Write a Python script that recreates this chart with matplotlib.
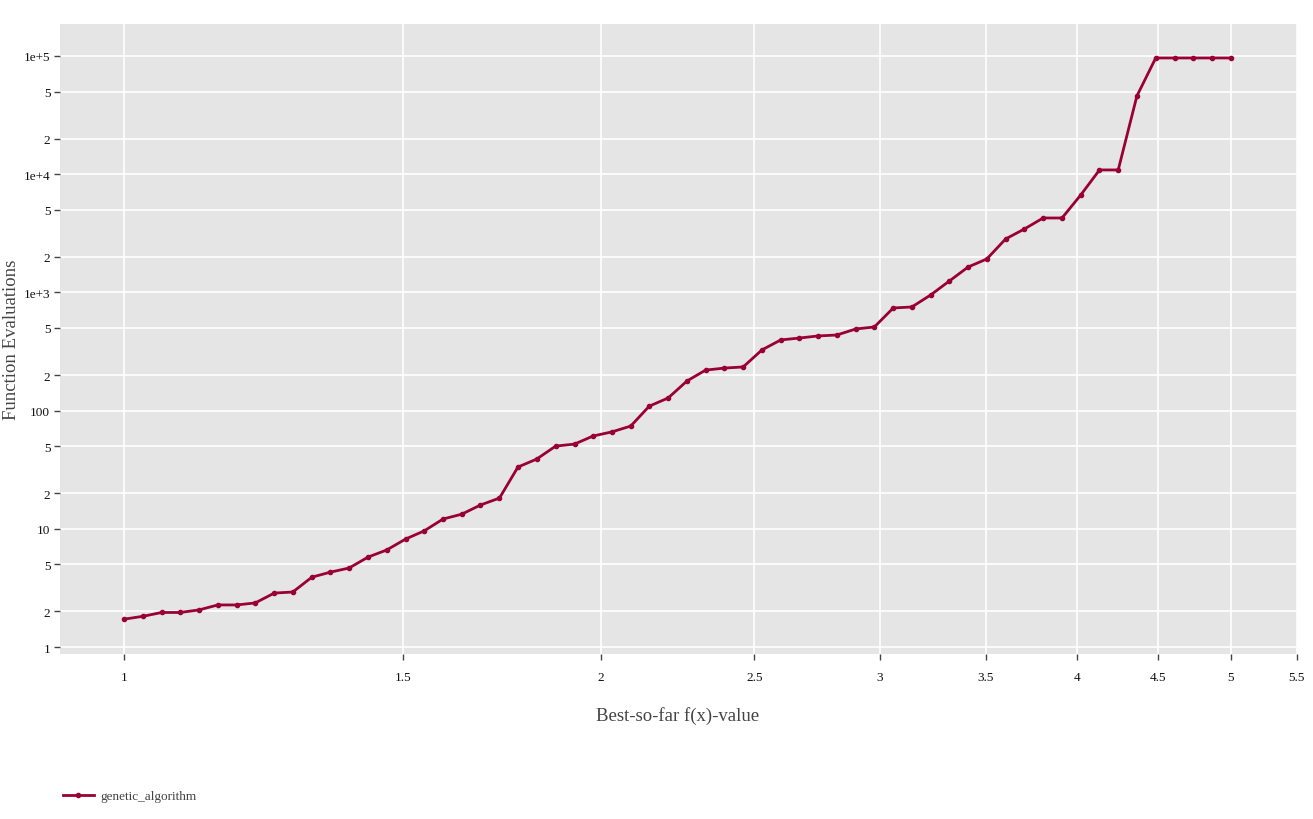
import matplotlib
matplotlib.use("Agg")
import matplotlib.pyplot as plt
from matplotlib.ticker import FixedLocator, FixedFormatter, NullLocator

# Data
x_values = [1.000, 1.028, 1.056, 1.085, 1.115, 1.146, 1.178, 1.210, 1.244, 1.278,
            1.314, 1.350, 1.387, 1.426, 1.465, 1.506, 1.547, 1.590, 1.634, 1.679,
            1.726, 1.773, 1.822, 1.873, 1.925, 1.978, 2.032, 2.089, 2.146, 2.206,
            2.267, 2.329, 2.394, 2.460, 2.528, 2.598, 2.669, 2.743, 2.819, 2.897,
            2.977, 3.060, 3.144, 3.231, 3.320, 3.412, 3.506, 3.603, 3.703, 3.805,
            3.911, 4.019, 4.130, 4.244, 4.361, 4.482, 4.606, 4.733, 4.864, 5.000]
y_values = [1.72, 1.82, 1.96, 1.96, 2.06, 2.27, 2.27, 2.36, 2.86, 2.92,
            3.9, 4.3, 4.66, 5.77, 6.62, 8.2, 9.6, 12.1, 13.3, 15.9,
            18.2, 33.3, 38.9, 50.1, 52.1, 61, 66, 74, 109, 128,
            178, 220, 229, 234, 326, 396, 411, 428, 436, 490,
            510, 738, 753, 951, 1248, 1640, 1918, 2830, 3440, 4260,
            4260, 6670, 10860, 10860, 45900, 96200, 96200, 96200, 96200, 96200]
series_name = "genetic_algorithm"

x_ticks = [1, 1.5, 2, 2.5, 3, 3.5, 4, 4.5, 5, 5.5]
x_tick_labels = ["1", "1.5", "2", "2.5", "3", "3.5", "4", "4.5", "5", "5.5"]
y_ticks = [1, 2, 5, 10, 20, 50, 100, 200, 500, 1e3, 2e3, 5e3, 1e4, 2e4, 5e4, 1e5]
y_tick_labels = ["1", "2", "5", "10", "2", "5", "100", "2", "5", "1e+3", "2", "5",
                 "1e+4", "2", "5", "1e+5"]

W, H = 1313, 820
fig = plt.figure(figsize=(W / 100, H / 100), dpi=100)
left, right, top, bottom = 60, 1297, 24.7, 655
ax = fig.add_axes([left / W, 1 - bottom / H, (right - left) / W, (bottom - top) / H])
ax.set_facecolor("#E5E5E5")
for s in ax.spines.values():
    s.set_visible(False)

ax.set_xscale("log")
ax.set_yscale("log")
ax.set_xlim(0.911, 5.504)
ax.set_ylim(10 ** -0.059, 10 ** 5.273)

ax.xaxis.set_major_locator(FixedLocator(x_ticks))
ax.xaxis.set_major_formatter(FixedFormatter(x_tick_labels))
ax.xaxis.set_minor_locator(NullLocator())
ax.yaxis.set_major_locator(FixedLocator(y_ticks))
ax.yaxis.set_major_formatter(FixedFormatter(y_tick_labels))
ax.yaxis.set_minor_locator(NullLocator())

ax.grid(True, color="white", linewidth=1.2)
ax.set_axisbelow(True)
ax.tick_params(axis="both", length=4, width=1, color="#444444", labelcolor="#111111",
               labelsize=9.5, pad=8)
for lbl in ax.get_xticklabels() + ax.get_yticklabels():
    lbl.set_family("Liberation Serif")
ax.tick_params(axis="y", pad=3)

ax.plot(x_values, y_values, color="#990033", linewidth=2, marker="o", markersize=3,
        label=series_name, clip_on=False, zorder=3)

ax.set_xlabel("Best-so-far f(x)-value", family="Liberation Serif", fontsize=13.5,
              color="#444444")
ax.xaxis.set_label_coords((678 - left) / (right - left), -(716 - bottom) / (bottom - top))
ax.xaxis.label.set_va("center")
ax.set_ylabel("Function Evaluations", family="Liberation Serif", fontsize=13.5,
              color="#444444")
ax.yaxis.set_label_coords(-(left - 12) / (right - left), (bottom - 340) / (bottom - top))
ax.yaxis.label.set_va("center")

leg = fig.legend(loc="center left", bbox_to_anchor=(58 / W, 1 - 797 / H), frameon=False,
                 prop={"family": "Liberation Serif", "size": 9.5}, handlelength=2.3,
                 handletextpad=0.5, borderaxespad=0)
for t in leg.get_texts():
    t.set_color("#444444")

fig.savefig("out.png", dpi=100)
